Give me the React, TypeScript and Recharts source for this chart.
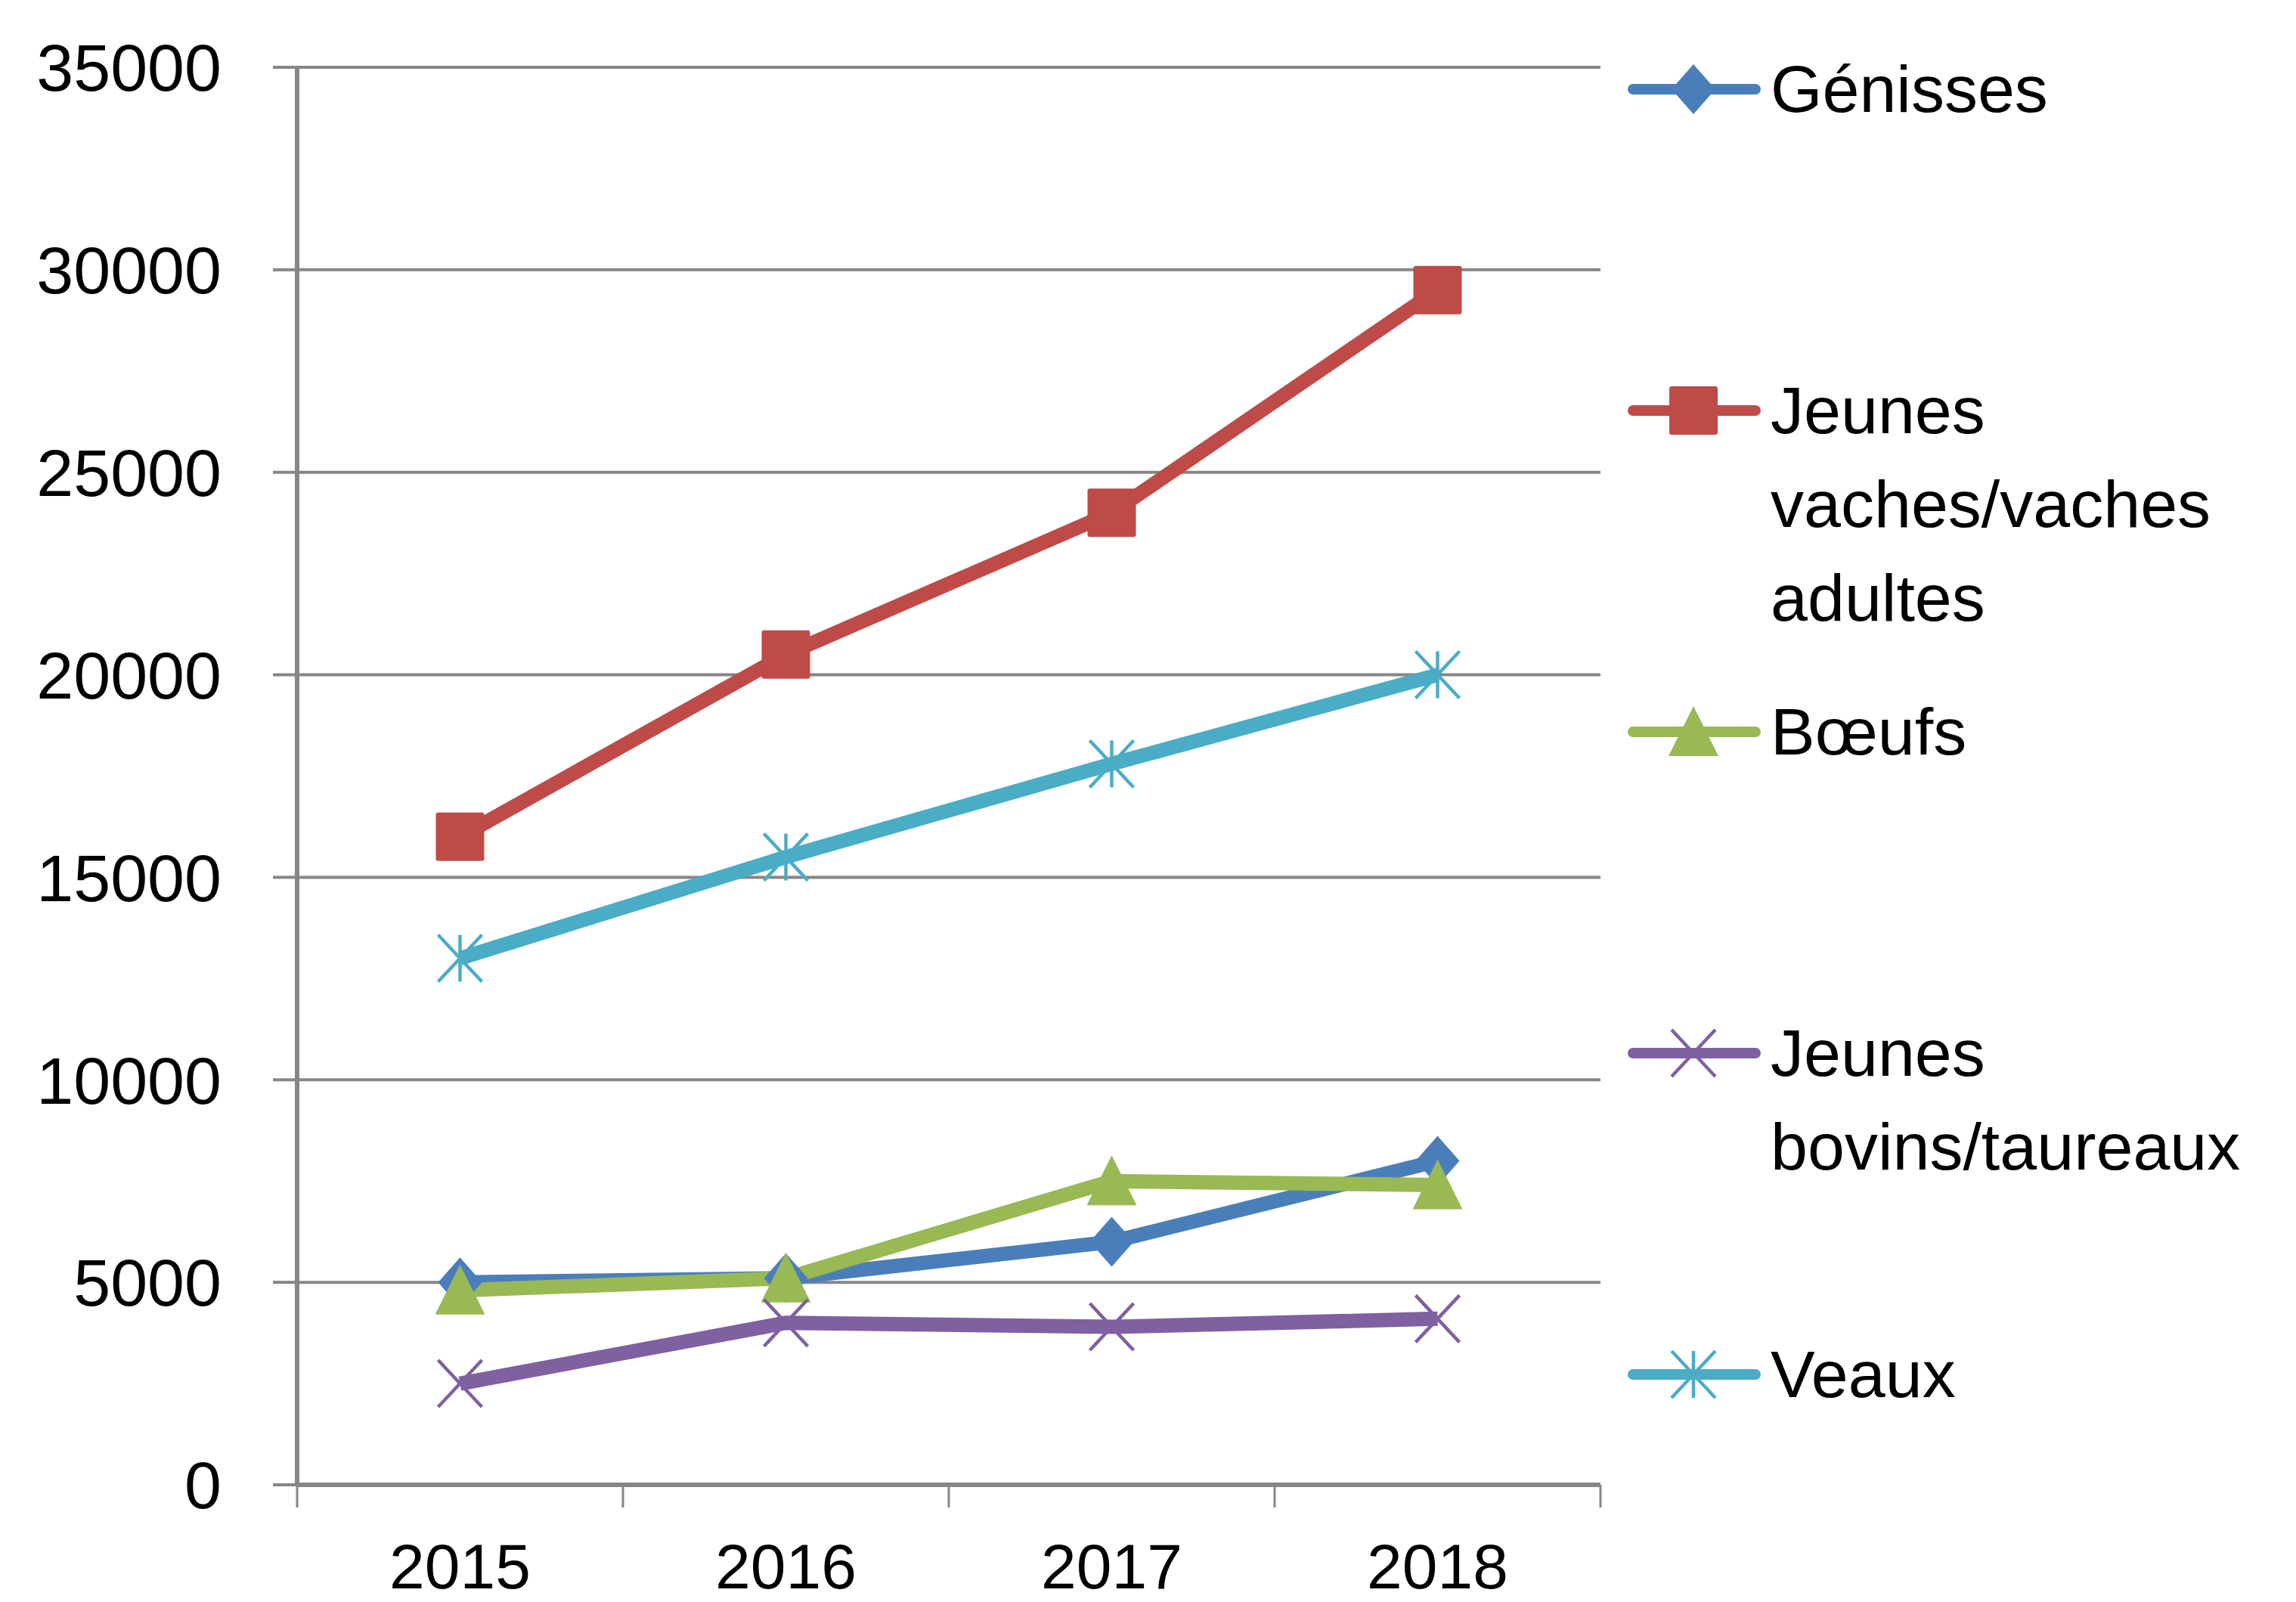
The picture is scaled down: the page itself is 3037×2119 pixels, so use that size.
import React from "react";
import { LineChart, Line, XAxis, YAxis, CartesianGrid } from "recharts";

// values
const years = ["2015", "2016", "2017", "2018"];
const genisses = [5000, 5100, 6000, 8000];
const jeunesVaches = [16000, 20500, 24000, 29500];
const boeufs = [4800, 5100, 7500, 7400];
const jeunesBovins = [2500, 4000, 3900, 4100];
const veaux = [13000, 15500, 17800, 20000];
const yTicks = [0, 5000, 10000, 15000, 20000, 25000, 30000, 35000];

const W = 3037;
const H = 2119;
const FONT = "'Liberation Sans', Arial, sans-serif";
const GRID = "#868686";

type Shape = "diamond" | "square" | "triangle" | "x" | "star";

const series: { key: string; name: string[]; color: string; shape: Shape; values: number[] }[] = [
  { key: "genisses", name: ["Génisses"], color: "#4A7EBB", shape: "diamond", values: genisses },
  { key: "jeunesVaches", name: ["Jeunes", "vaches/vaches", "adultes"], color: "#BE4B48", shape: "square", values: jeunesVaches },
  { key: "boeufs", name: ["Bœufs"], color: "#98B954", shape: "triangle", values: boeufs },
  { key: "jeunesBovins", name: ["Jeunes", "bovins/taureaux"], color: "#7F60A1", shape: "x", values: jeunesBovins },
  { key: "veaux", name: ["Veaux"], color: "#4BACC6", shape: "star", values: veaux },
];

const data = years.map((year, i) => {
  const row: Record<string, number | string> = { year, pos: i + 0.5 };
  series.forEach((s) => {
    row[s.key] = s.values[i];
  });
  return row;
});

// ticks at category edges (lines) and centres (labels)
const xTicks: number[] = [];
for (let i = 0; i <= years.length * 2; i++) xTicks.push(i / 2);

const Marker = ({ cx, cy, shape, color }: { cx: number; cy: number; shape: Shape; color: string }) => {
  if (cx == null || cy == null) return null;
  if (shape === "diamond") {
    const w = 29, h = 33;
    return <polygon points={`${cx},${cy - h} ${cx + w},${cy} ${cx},${cy + h} ${cx - w},${cy}`} fill={color} />;
  }
  if (shape === "square") {
    return <rect x={cx - 32} y={cy - 32} width={64} height={64} rx={3} fill={color} />;
  }
  if (shape === "triangle") {
    return <polygon points={`${cx},${cy - 34} ${cx + 33},${cy + 32} ${cx - 33},${cy + 32}`} fill={color} />;
  }
  const w = 29, h = 31;
  return (
    <g stroke={color} strokeWidth={4.5}>
      <line x1={cx - w} y1={cy - h} x2={cx + w} y2={cy + h} />
      <line x1={cx - w} y1={cy + h} x2={cx + w} y2={cy - h} />
      {shape === "star" && <line x1={cx} y1={cy - h} x2={cx} y2={cy + h} />}
    </g>
  );
};

const XTick = (props: any) => {
  const { x, y, payload } = props;
  const v = payload.value as number;
  if (Number.isInteger(v)) {
    return <line x1={x} y1={y} x2={x} y2={y + 30} stroke={GRID} strokeWidth={3} />;
  }
  const label = years[Math.floor(v)];
  return (
    <text x={x} y={y + 108} dy="0.35em" textAnchor="middle" fontSize={84} fontFamily={FONT} fill="#000">
      {label}
    </text>
  );
};

const LEGEND_TOP = 118;
const LEGEND_GAP = 425;
const LINE_H = 124;

const LegendBox = () => (
  <div style={{ position: "absolute", left: 0, top: 0, width: W, height: H, pointerEvents: "none" }}>
    {series.map((s, i) => {
      const cy = LEGEND_TOP + i * LEGEND_GAP;
      return (
        <div key={s.key}>
          <svg style={{ position: "absolute", left: 2140, top: cy - 50 }} width={200} height={100}>
            <line x1={20} y1={50} x2={182} y2={50} stroke={s.color} strokeWidth={14} strokeLinecap="round" />
            <Marker cx={100} cy={50} shape={s.shape} color={s.color} />
          </svg>
          {s.name.map((t, j) => (
            <div
              key={j}
              style={{
                position: "absolute",
                left: 2342,
                top: cy + j * LINE_H - 62,
                height: LINE_H,
                lineHeight: `${LINE_H}px`,
                fontSize: 88,
                fontFamily: FONT,
                color: "#000",
                whiteSpace: "nowrap",
              }}
            >
              {t}
            </div>
          ))}
        </div>
      );
    })}
  </div>
);

export default function App() {
  return (
    <div style={{ position: "absolute", left: 0, top: 0, width: W, height: H, background: "#fff" }}>
      <LineChart width={W} height={H} data={data} margin={{ top: 89, right: 920, bottom: 0, left: 0 }}>
        <CartesianGrid horizontal vertical={false} stroke={GRID} strokeWidth={4} />
        <XAxis
          dataKey="pos"
          type="number"
          domain={[0, years.length]}
          ticks={xTicks}
          interval={0}
          height={155}
          axisLine={{ stroke: GRID, strokeWidth: 6 }}
          tickLine={false}
          tickSize={0}
          tickMargin={0}
          tick={<XTick />}
        />
        <YAxis
          domain={[0, 35000]}
          ticks={yTicks}
          interval={0}
          width={393}
          axisLine={{ stroke: GRID, strokeWidth: 6 }}
          tickLine={{ stroke: GRID, strokeWidth: 4 }}
          tickSize={32}
          tickMargin={68}
          tick={{ fontSize: 88, fontFamily: FONT, fill: "#000" }}
        />
        {series.map((s) => (
          <Line
            key={s.key}
            dataKey={s.key}
            name={s.name.join(" ")}
            stroke={s.color}
            strokeWidth={19}
            strokeLinejoin="round"
            isAnimationActive={false}
            dot={(p: any) => <Marker key={`${s.key}-${p.index}`} cx={p.cx} cy={p.cy} shape={s.shape} color={s.color} />}
            activeDot={false}
          />
        ))}
      </LineChart>
      <LegendBox />
    </div>
  );
}
